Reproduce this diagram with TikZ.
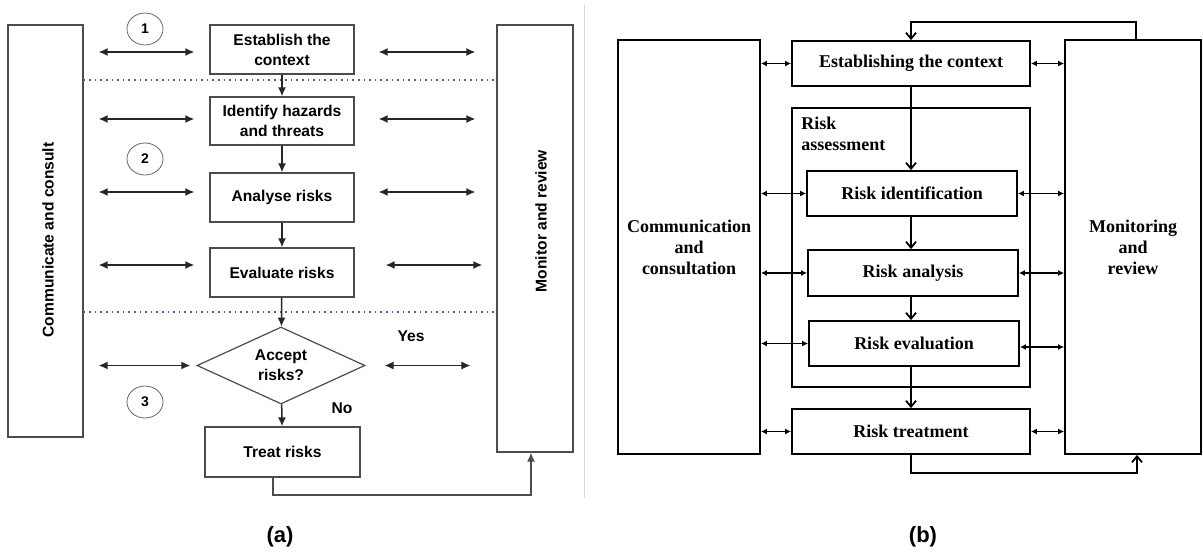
\documentclass[tikz,border=0pt]{standalone}
\usepackage{fontspec}
\setmainfont{Liberation Serif}
\newfontfamily\arialfam{Liberation Sans}
\usetikzlibrary{arrows.meta,shapes.geometric}
\definecolor{dotblue}{RGB}{70,100,150}
\newcommand{\sansbf}{\arialfam\bfseries\fontsize{7.8}{10}\selectfont}
\newcommand{\serifbf}{\bfseries\fontsize{9}{10.5}\selectfont}
\tikzset{
  boxa/.style={draw=black!70,line width=0.6pt,align=center,font=\sansbf,inner sep=0pt},
  boxb/.style={draw,line width=0.9pt,align=center,font=\serifbf,inner sep=0pt},
  linka/.style={black!85,line width=0.75pt,-{Latex[length=4.5pt,width=4pt]}},
  dbla/.style={black!85,line width=0.75pt,{Latex[length=4.5pt,width=4pt]}-{Latex[length=4.5pt,width=4pt]}},
  linkb/.style={line width=0.9pt,-{Straight Barb[length=3pt,width=5pt]}},
  dblb/.style={line width=0.9pt,{Latex[length=3pt,width=3pt]}-{Latex[length=3pt,width=3pt]}},
  stage/.style={draw=black!60,ellipse,minimum width=18pt,minimum height=16pt,inner sep=0pt,
    font=\arialfam\bfseries\fontsize{7}{8}\selectfont},
  divider/.style={dotted,line width=0.8pt,color=dotblue}
}

\begin{document}
\begin{tikzpicture}[x=0.5pt,y=-0.5pt]
  \useasboundingbox (0,0) rectangle (1203,551);
  % (a)
  \node[boxa,minimum width=37.5pt,minimum height=206pt] (comm) at (45.5,231) {};
  \node[rotate=90,font=\sansbf] (commtxt) at (48,240) {Communicate and consult};
  \node[boxa,minimum width=38pt,minimum height=213.5pt] (mon) at (535,238.5) {};
  \node[rotate=90,font=\sansbf] (montxt) at (541,221) {Monitor and review};
  \node[boxa,minimum width=72pt,minimum height=24.5pt] (est) at (282,49.5) {Establish the\\context};
  \node[boxa,minimum width=72pt,minimum height=24pt] (ident) at (282,121) {Identify hazards\\and threats};
  \node[boxa,minimum width=72pt,minimum height=24.5pt] (anal) at (282,197.5) {Analyse risks};
  \node[boxa,minimum width=72pt,minimum height=24.5pt] (eval) at (282,272.5) {Evaluate risks};
  \node[boxa,diamond,shape aspect=2.2,minimum width=84pt,minimum height=38.5pt] (acc) at (281,365.5) {Accept\\risks?};
  \node[boxa,minimum width=77.5pt,minimum height=25pt] (treat) at (282.5,452) {Treat risks};
  \node[stage] (s1) at (145,29) {1};
  \node[stage] (s2) at (145,159) {2};
  \node[stage] (s3) at (145,402) {3};
  \node[font=\sansbf] (yes) at (411,336) {Yes};
  \node[font=\sansbf] (no) at (342,408) {No};

  \coordinate (d1) at (0,80);
  \coordinate (d2) at (0,312);
  \draw[divider] (comm.east |- d1) -- (mon.west |- d1);
  \draw[divider] (comm.east |- d2) -- (mon.west |- d2);

  \draw[linka] (est) -- (ident);
  \draw[linka] (ident) -- (anal);
  \draw[linka] (anal) -- (eval);
  \draw[linka] (eval) -- (acc);
  \draw[linka] (acc) -- (treat);

  \coordinate (ra1) at (0,52);
  \coordinate (ra2) at (0,119);
  \coordinate (ra3) at (0,192);
  \coordinate (ra4) at (0,265);
  \coordinate (ra5) at (0,365.5);
  \draw[dbla,shorten <=7.5pt,shorten >=7.5pt] (comm.east |- ra1) -- (est.west |- ra1);
  \draw[dbla,shorten <=12pt,shorten >=10.5pt] (est.east |- ra1) -- (mon.west |- ra1);
  \draw[dbla,shorten <=7.5pt,shorten >=7.5pt] (comm.east |- ra2) -- (ident.west |- ra2);
  \draw[dbla,shorten <=12pt,shorten >=10.5pt] (ident.east |- ra2) -- (mon.west |- ra2);
  \draw[dbla,shorten <=7.5pt,shorten >=7.5pt] (comm.east |- ra3) -- (anal.west |- ra3);
  \draw[dbla,shorten <=12pt,shorten >=10.5pt] (anal.east |- ra3) -- (mon.west |- ra3);
  \draw[dbla,shorten <=7.5pt,shorten >=7.5pt] (comm.east |- ra4) -- (eval.west |- ra4);
  \draw[dbla,shorten <=15.5pt,shorten >=7pt] (eval.east |- ra4) -- (mon.west |- ra4);
  \draw[dbla,shorten <=7.5pt,shorten >=3pt] (comm.east |- ra5) -- (acc.west);
  \draw[dbla,line width=0.5pt,shorten <=9.5pt,shorten >=13pt] (acc.east) -- (mon.west |- ra5);

  \coordinate (fa) at (273,495);
  \coordinate (fb) at (531,495);
  \draw[linka,black!70] (treat.south -| fa) -- (fa) -- (fb) -- (fb |- mon.south);

  \draw[black!15,line width=0.5pt] (584,5) -- (584,498);

  % (b)
  \node[boxb,minimum width=71pt,minimum height=207pt] (commb) at (689,247) {Communication\\and\\consultation};
  \node[boxb,minimum width=68pt,minimum height=207pt] (monb) at (1133,247) {Monitoring\\and\\review};
  \node[boxb,minimum width=119pt,minimum height=22.5pt] (estb) at (911,63.5) {Establishing the context};
  \node[boxb,minimum width=119pt,minimum height=139.5pt] (rab) at (911,247.5) {};
  \node[anchor=north west,align=left,font=\serifbf,inner sep=0pt] (rabtxt) at (801,117) {Risk\\assessment};
  \node[boxb,minimum width=105pt,minimum height=22.5pt] (idb) at (912,193.5) {Risk identification};
  \node[boxb,minimum width=105pt,minimum height=23pt] (anb) at (913,273) {Risk analysis};
  \node[boxb,minimum width=105pt,minimum height=22.5pt] (evb) at (914,343.5) {Risk evaluation};
  \node[boxb,minimum width=119pt,minimum height=22.5pt] (trb) at (911,431.5) {Risk treatment};

  \draw[linkb] (estb.south) -- (idb.north -| estb);
  \draw[linkb] (idb.south -| estb) -- (anb.north -| estb);
  \draw[linkb] (anb.south -| estb) -- (evb.north -| estb);
  \draw[linkb] (evb.south -| estb) -- (trb.north);

  \draw[dblb] (commb.east |- estb) -- (estb.west);
  \draw[dblb] (commb.east |- idb) -- (idb.west);
  \draw[dblb] (commb.east |- anb) -- (anb.west);
  \draw[dblb] (commb.east |- evb) -- (evb.west);
  \draw[dblb] (commb.east |- trb) -- (trb.west);
  \coordinate (evr) at ([yshift=-1.75pt]evb.east);
  \draw[dblb] (estb.east) -- (monb.west |- estb);
  \draw[dblb] (idb.east) -- (monb.west |- idb);
  \draw[dblb] (anb.east) -- (monb.west |- anb);
  \draw[dblb] (evr) -- (monb.west |- evr);
  \draw[dblb] (trb.east) -- (monb.west |- trb);

  \coordinate (tb) at (1136,22);
  \draw[linkb] (monb.north -| tb) -- (tb) -| (estb.north);
  \coordinate (bb) at (1137,473);
  \draw[linkb] (trb.south) |- (bb) -- (bb |- monb.south);

  \node[font=\arialfam\bfseries\fontsize{11}{13}\selectfont] (capa) at (280,537) {(a)};
  \node[font=\arialfam\bfseries\fontsize{11}{13}\selectfont] (capb) at (923,537) {(b)};
\end{tikzpicture}
\end{document}
